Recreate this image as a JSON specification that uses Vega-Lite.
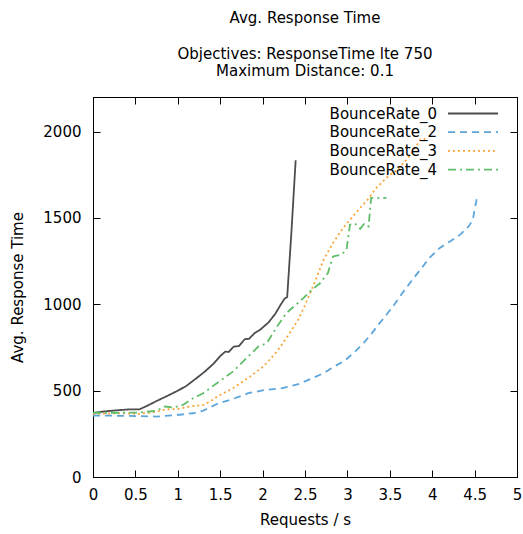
{
  "$schema": "https://vega.github.io/schema/vega-lite/v6.json",
  "width": 424,
  "height": 380,
  "autosize": {"type": "none"},
  "padding": {"left": 93, "top": 97, "right": 6, "bottom": 57},
  "background": "white",
  "title": {
    "text": "Avg. Response Time",
    "subtitle": ["Objectives: ResponseTime lte 750", "Maximum Distance: 0.1"],
    "font": "DejaVu Sans",
    "fontSize": 15,
    "fontWeight": "normal",
    "color": "black",
    "lineHeight": 17.7,
    "subtitleFont": "DejaVu Sans",
    "subtitleFontSize": 15,
    "subtitleColor": "black",
    "subtitleLineHeight": 17.7,
    "subtitlePadding": 21,
    "anchor": "middle",
    "offset": 17
  },
  "config": {
    "view": {"stroke": "black", "strokeWidth": 1},
    "font": "DejaVu Sans",
    "axis": {
      "grid": false,
      "domainColor": "black",
      "tickColor": "black",
      "tickSize": -7,
      "labelColor": "black",
      "labelFont": "DejaVu Sans",
      "labelFontSize": 15,
      "titleFont": "DejaVu Sans",
      "titleFontSize": 15,
      "titleFontWeight": "normal",
      "titleColor": "black"
    }
  },
  "datasets": {
    "pts": [
      {"series": "BounceRate_0", "x": 0, "y": 371},
      {"series": "BounceRate_0", "x": 0.14, "y": 380},
      {"series": "BounceRate_0", "x": 0.3, "y": 387},
      {"series": "BounceRate_0", "x": 0.45, "y": 392},
      {"series": "BounceRate_0", "x": 0.55, "y": 392},
      {"series": "BounceRate_0", "x": 0.63, "y": 410},
      {"series": "BounceRate_0", "x": 0.75, "y": 440},
      {"series": "BounceRate_0", "x": 0.87, "y": 468},
      {"series": "BounceRate_0", "x": 0.99, "y": 497},
      {"series": "BounceRate_0", "x": 1.1, "y": 527},
      {"series": "BounceRate_0", "x": 1.22, "y": 572},
      {"series": "BounceRate_0", "x": 1.32, "y": 611},
      {"series": "BounceRate_0", "x": 1.42, "y": 655},
      {"series": "BounceRate_0", "x": 1.5, "y": 700},
      {"series": "BounceRate_0", "x": 1.56, "y": 726},
      {"series": "BounceRate_0", "x": 1.6, "y": 724},
      {"series": "BounceRate_0", "x": 1.66, "y": 755},
      {"series": "BounceRate_0", "x": 1.72, "y": 758},
      {"series": "BounceRate_0", "x": 1.79, "y": 798},
      {"series": "BounceRate_0", "x": 1.84, "y": 800},
      {"series": "BounceRate_0", "x": 1.91, "y": 835},
      {"series": "BounceRate_0", "x": 1.97, "y": 852},
      {"series": "BounceRate_0", "x": 2.07, "y": 895},
      {"series": "BounceRate_0", "x": 2.15, "y": 945},
      {"series": "BounceRate_0", "x": 2.21, "y": 995},
      {"series": "BounceRate_0", "x": 2.26, "y": 1033},
      {"series": "BounceRate_0", "x": 2.29, "y": 1042},
      {"series": "BounceRate_0", "x": 2.34, "y": 1420},
      {"series": "BounceRate_0", "x": 2.39, "y": 1834},

      {"series": "BounceRate_2", "x": 0, "y": 356},
      {"series": "BounceRate_2", "x": 0.36, "y": 354},
      {"series": "BounceRate_2", "x": 0.75, "y": 350},
      {"series": "BounceRate_2", "x": 0.99, "y": 359},
      {"series": "BounceRate_2", "x": 1.18, "y": 369},
      {"series": "BounceRate_2", "x": 1.3, "y": 384},
      {"series": "BounceRate_2", "x": 1.48, "y": 427},
      {"series": "BounceRate_2", "x": 1.64, "y": 450},
      {"series": "BounceRate_2", "x": 1.83, "y": 485},
      {"series": "BounceRate_2", "x": 2.03, "y": 504},
      {"series": "BounceRate_2", "x": 2.23, "y": 514},
      {"series": "BounceRate_2", "x": 2.42, "y": 537},
      {"series": "BounceRate_2", "x": 2.6, "y": 575},
      {"series": "BounceRate_2", "x": 2.72, "y": 601},
      {"series": "BounceRate_2", "x": 2.83, "y": 636},
      {"series": "BounceRate_2", "x": 2.97, "y": 674},
      {"series": "BounceRate_2", "x": 3.09, "y": 726},
      {"series": "BounceRate_2", "x": 3.19, "y": 775},
      {"series": "BounceRate_2", "x": 3.29, "y": 833},
      {"series": "BounceRate_2", "x": 3.38, "y": 891},
      {"series": "BounceRate_2", "x": 3.47, "y": 945},
      {"series": "BounceRate_2", "x": 3.56, "y": 1003},
      {"series": "BounceRate_2", "x": 3.64, "y": 1060},
      {"series": "BounceRate_2", "x": 3.74, "y": 1125},
      {"series": "BounceRate_2", "x": 3.86, "y": 1200},
      {"series": "BounceRate_2", "x": 3.97, "y": 1270},
      {"series": "BounceRate_2", "x": 4.09, "y": 1326},
      {"series": "BounceRate_2", "x": 4.21, "y": 1364},
      {"series": "BounceRate_2", "x": 4.33, "y": 1403},
      {"series": "BounceRate_2", "x": 4.43, "y": 1451},
      {"series": "BounceRate_2", "x": 4.48, "y": 1490},
      {"series": "BounceRate_2", "x": 4.5, "y": 1548},
      {"series": "BounceRate_2", "x": 4.53, "y": 1620},

      {"series": "BounceRate_3", "x": 0, "y": 366},
      {"series": "BounceRate_3", "x": 0.36, "y": 369},
      {"series": "BounceRate_3", "x": 0.55, "y": 365},
      {"series": "BounceRate_3", "x": 0.75, "y": 379},
      {"series": "BounceRate_3", "x": 0.87, "y": 392},
      {"series": "BounceRate_3", "x": 0.99, "y": 393},
      {"series": "BounceRate_3", "x": 1.14, "y": 408},
      {"series": "BounceRate_3", "x": 1.3, "y": 417},
      {"series": "BounceRate_3", "x": 1.38, "y": 437},
      {"series": "BounceRate_3", "x": 1.48, "y": 470},
      {"series": "BounceRate_3", "x": 1.65, "y": 514},
      {"series": "BounceRate_3", "x": 1.85, "y": 581},
      {"series": "BounceRate_3", "x": 2.01, "y": 640},
      {"series": "BounceRate_3", "x": 2.17, "y": 727},
      {"series": "BounceRate_3", "x": 2.28, "y": 804},
      {"series": "BounceRate_3", "x": 2.42, "y": 910},
      {"series": "BounceRate_3", "x": 2.5, "y": 995},
      {"series": "BounceRate_3", "x": 2.6, "y": 1110},
      {"series": "BounceRate_3", "x": 2.72, "y": 1258},
      {"series": "BounceRate_3", "x": 2.83, "y": 1355},
      {"series": "BounceRate_3", "x": 2.95, "y": 1442},
      {"series": "BounceRate_3", "x": 3.05, "y": 1500},
      {"series": "BounceRate_3", "x": 3.15, "y": 1558},
      {"series": "BounceRate_3", "x": 3.25, "y": 1612},
      {"series": "BounceRate_3", "x": 3.33, "y": 1668},
      {"series": "BounceRate_3", "x": 3.42, "y": 1712},
      {"series": "BounceRate_3", "x": 3.5, "y": 1750},
      {"series": "BounceRate_3", "x": 3.58, "y": 1775},
      {"series": "BounceRate_3", "x": 3.7, "y": 1838},
      {"series": "BounceRate_3", "x": 3.8, "y": 1906},
      {"series": "BounceRate_3", "x": 3.86, "y": 1954},
      {"series": "BounceRate_3", "x": 3.92, "y": 1958},

      {"series": "BounceRate_4", "x": 0, "y": 372},
      {"series": "BounceRate_4", "x": 0.36, "y": 372},
      {"series": "BounceRate_4", "x": 0.55, "y": 373},
      {"series": "BounceRate_4", "x": 0.75, "y": 384},
      {"series": "BounceRate_4", "x": 0.85, "y": 408},
      {"series": "BounceRate_4", "x": 0.95, "y": 402},
      {"series": "BounceRate_4", "x": 1.06, "y": 417},
      {"series": "BounceRate_4", "x": 1.18, "y": 456},
      {"series": "BounceRate_4", "x": 1.3, "y": 485},
      {"series": "BounceRate_4", "x": 1.46, "y": 543},
      {"series": "BounceRate_4", "x": 1.65, "y": 610},
      {"series": "BounceRate_4", "x": 1.81, "y": 688},
      {"series": "BounceRate_4", "x": 1.95, "y": 755},
      {"series": "BounceRate_4", "x": 2.05, "y": 775},
      {"series": "BounceRate_4", "x": 2.17, "y": 871},
      {"series": "BounceRate_4", "x": 2.28, "y": 949},
      {"series": "BounceRate_4", "x": 2.4, "y": 1000},
      {"series": "BounceRate_4", "x": 2.48, "y": 1036},
      {"series": "BounceRate_4", "x": 2.56, "y": 1074},
      {"series": "BounceRate_4", "x": 2.68, "y": 1123},
      {"series": "BounceRate_4", "x": 2.77, "y": 1181},
      {"series": "BounceRate_4", "x": 2.83, "y": 1277},
      {"series": "BounceRate_4", "x": 2.93, "y": 1287},
      {"series": "BounceRate_4", "x": 2.99, "y": 1316},
      {"series": "BounceRate_4", "x": 3.03, "y": 1461},
      {"series": "BounceRate_4", "x": 3.09, "y": 1468},
      {"series": "BounceRate_4", "x": 3.15, "y": 1437},
      {"series": "BounceRate_4", "x": 3.2, "y": 1468},
      {"series": "BounceRate_4", "x": 3.25, "y": 1451},
      {"series": "BounceRate_4", "x": 3.28, "y": 1616},
      {"series": "BounceRate_4", "x": 3.46, "y": 1616}
    ]
  },
  "data": {"name": "pts"},
  "resolve": {"axis": {"x": "independent", "y": "independent"}},
  "layer": [
    {
      "mark": {"type": "line", "strokeWidth": 1.8},
      "encoding": {
        "x": {
          "field": "x", "type": "quantitative",
          "scale": {"domain": [0, 5], "nice": false, "zero": false},
          "axis": {"orient": "bottom", "title": "Requests / s", "values": [0, 0.5, 1, 1.5, 2, 2.5, 3, 3.5, 4, 4.5, 5], "format": "~g", "labelPadding": 17, "titlePadding": 10, "labelFlush": false}
        },
        "y": {
          "field": "y", "type": "quantitative",
          "scale": {"domain": [0, 2200], "nice": false},
          "axis": {"orient": "left", "title": "Avg. Response Time", "values": [0, 500, 1000, 1500, 2000], "format": "d", "labelPadding": 19, "titlePadding": 17, "labelFlush": false}
        },
        "color": {
          "field": "series", "type": "nominal",
          "scale": {"domain": ["BounceRate_0", "BounceRate_2", "BounceRate_3", "BounceRate_4"], "range": ["#4D4D4D", "#5DA5DA", "#FAA43A", "#60BD68"]},
          "legend": {"title": null, "orient": "none", "legendX": 354, "legendY": 8.5, "padding": 0, "symbolType": "M-1,0H6.143", "symbolSize": 196, "symbolStrokeWidth": 1.8, "labelFontSize": 15, "labelFont": "DejaVu Sans", "labelColor": "black", "labelAlign": "right", "labelOffset": -26, "rowPadding": 2.7}
        },
        "strokeDash": {
          "field": "series", "type": "nominal",
          "scale": {"domain": ["BounceRate_0", "BounceRate_2", "BounceRate_3", "BounceRate_4"], "range": [[1, 0], [7, 5], [2, 3], [8, 4, 2, 4]]},
          "legend": {"title": null, "orient": "none", "legendX": 354, "legendY": 8.5, "padding": 0, "symbolType": "M-1,0H6.143", "symbolSize": 196, "symbolStrokeWidth": 1.8, "labelFontSize": 15, "labelFont": "DejaVu Sans", "labelColor": "black", "labelAlign": "right", "labelOffset": -26, "rowPadding": 2.7}
        }
      }
    },
    {
      "mark": {"type": "line", "opacity": 0},
      "encoding": {
        "x": {"field": "x", "type": "quantitative", "axis": {"orient": "top", "title": null, "labels": false, "values": [0, 0.5, 1, 1.5, 2, 2.5, 3, 3.5, 4, 4.5, 5]}},
        "y": {"field": "y", "type": "quantitative", "axis": {"orient": "right", "title": null, "labels": false, "values": [0, 500, 1000, 1500, 2000]}},
        "detail": {"field": "series"}
      }
    }
  ]
}
